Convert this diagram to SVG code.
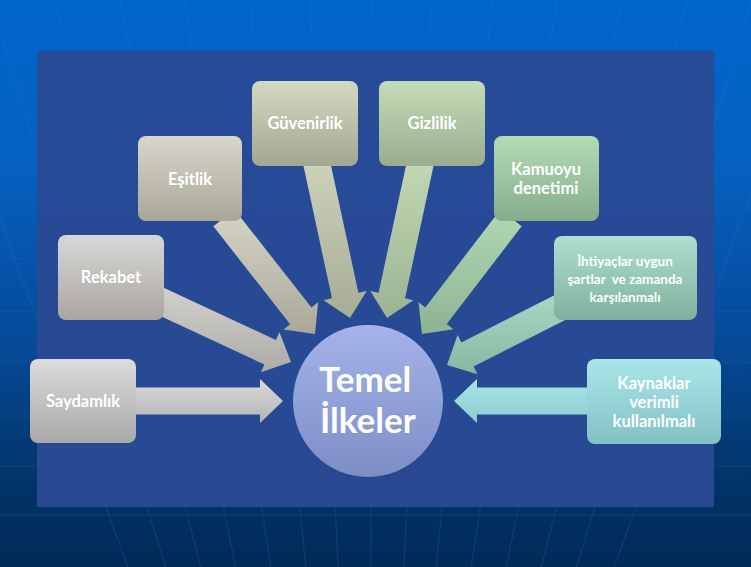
<svg xmlns="http://www.w3.org/2000/svg" width="751" height="567" viewBox="0 0 751 567">
<defs>
<linearGradient id="bg" x1="0" y1="0" x2="0" y2="1">
<stop offset="0" stop-color="#0066cc"/><stop offset="0.3" stop-color="#0560c0"/><stop offset="0.6" stop-color="#064a98"/><stop offset="0.85" stop-color="#023468"/><stop offset="1" stop-color="#012a58"/>
</linearGradient>
<linearGradient id="gSay" x1="0" y1="0" x2="0" y2="1"><stop offset="0" stop-color="#dcdcdc"/><stop offset="1" stop-color="#a8a8a8"/></linearGradient>
<linearGradient id="gRek" x1="0" y1="0" x2="0" y2="1"><stop offset="0" stop-color="#d9d7d5"/><stop offset="1" stop-color="#a8a5a2"/></linearGradient>
<linearGradient id="gEsi" x1="0" y1="0" x2="0" y2="1"><stop offset="0" stop-color="#d9d7cc"/><stop offset="1" stop-color="#a8a697"/></linearGradient>
<linearGradient id="gGuv" x1="0" y1="0" x2="0" y2="1"><stop offset="0" stop-color="#d4d9c2"/><stop offset="1" stop-color="#a2a792"/></linearGradient>
<linearGradient id="gGiz" x1="0" y1="0" x2="0" y2="1"><stop offset="0" stop-color="#c6dcb8"/><stop offset="1" stop-color="#97ad8c"/></linearGradient>
<linearGradient id="gKam" x1="0" y1="0" x2="0" y2="1"><stop offset="0" stop-color="#b2dcb6"/><stop offset="1" stop-color="#86ac8c"/></linearGradient>
<linearGradient id="gIht" x1="0" y1="0" x2="0" y2="1"><stop offset="0" stop-color="#ade0cd"/><stop offset="1" stop-color="#81af9f"/></linearGradient>
<linearGradient id="gKay" x1="0" y1="0" x2="0" y2="1"><stop offset="0" stop-color="#a9e6e8"/><stop offset="1" stop-color="#84c1c5"/></linearGradient>
<linearGradient id="aSay" x1="0" y1="0" x2="0" y2="1"><stop offset="0" stop-color="#dadada"/><stop offset="1" stop-color="#b4b4b4"/></linearGradient>
<linearGradient id="aRek" x1="0" y1="0" x2="0" y2="1"><stop offset="0" stop-color="#d2d0cd"/><stop offset="1" stop-color="#adaba6"/></linearGradient>
<linearGradient id="aEsi" x1="0" y1="0" x2="0" y2="1"><stop offset="0" stop-color="#d5d4c7"/><stop offset="1" stop-color="#a9a898"/></linearGradient>
<linearGradient id="aGuv" x1="0" y1="0" x2="0" y2="1"><stop offset="0" stop-color="#cdd3bb"/><stop offset="1" stop-color="#a7ad95"/></linearGradient>
<linearGradient id="aGiz" x1="0" y1="0" x2="0" y2="1"><stop offset="0" stop-color="#c3d9b5"/><stop offset="1" stop-color="#9cb391"/></linearGradient>
<linearGradient id="aKam" x1="0" y1="0" x2="0" y2="1"><stop offset="0" stop-color="#b1d9b3"/><stop offset="1" stop-color="#8eb394"/></linearGradient>
<linearGradient id="aIht" x1="0" y1="0" x2="0" y2="1"><stop offset="0" stop-color="#a9d9c5"/><stop offset="1" stop-color="#87b7a3"/></linearGradient>
<linearGradient id="aKay" x1="0" y1="0" x2="0" y2="1"><stop offset="0" stop-color="#a9e5e7"/><stop offset="1" stop-color="#8ccbcf"/></linearGradient>
<linearGradient id="gCirc" x1="0" y1="0" x2="0" y2="1"><stop offset="0" stop-color="#a4b4eb"/><stop offset="1" stop-color="#7c8ec5"/></linearGradient>
<style>
.box{stroke:none}
.t{font-family:"Lato","Open Sans",sans-serif;font-weight:700;fill:#ffffff;text-anchor:middle;font-size:16.5px}
.ts{font-size:13.5px}
.big{font-family:"Lato","Open Sans",sans-serif;font-weight:700;fill:#ffffff;font-size:35px}
.grid{stroke:#2f7ad8;stroke-width:1.2;opacity:0.22;fill:none}
</style>
</defs>
<rect x="0" y="0" width="751" height="567" fill="url(#bg)"/>
<g id="grid" class="grid">
<path d="M0,154H751M0,208H751M0,259H751M0,311H751M0,362H751M0,416H751M0,466H751M0,515H751"/>
<path d="M371,1230L-80,0M371,1230L-10,0M371,1230L55,0M371,1230L120,0M371,1230L185,0M371,1230L250,0M371,1230L310,0M371,1230L371,0M371,1230L432,0M371,1230L492,0M371,1230L557,0M371,1230L622,0M371,1230L687,0M371,1230L752,0M371,1230L822,0"/>
</g>
<rect id="panel" x="37" y="51" width="677" height="456" fill="#2a4a95" fill-opacity="0.95"/>
<g id="connectors">
<polygon fill="url(#aSay)" points="130,387.5 260,387.5 260,379 283,401 260,423 260,414.5 130,414.5"/>
<polygon fill="url(#aKay)" points="592,387.5 477,387.5 477,379 454,401 477,423 477,414.5 592,414.5"/>
<polygon fill="url(#aRek)" points="152.3,312.24 264.46,364.52 260.86,372.22 291,362 279.46,332.34 275.86,340.04 163.7,287.76"/>
<polygon fill="url(#aEsi)" points="213.38,226.33 290.18,324.23 283.49,329.48 315,334 318.11,302.32 311.42,307.57 234.62,209.67"/>
<polygon fill="url(#aGuv)" points="302.8,162.84 331.97,298.36 323.66,300.15 350,318 366.68,290.89 358.37,292.68 329.2,157.16"/>
<polygon fill="url(#aGiz)" points="407.8,157.16 378.63,292.68 370.32,290.89 387,318 413.34,300.15 405.03,298.36 434.2,162.84"/>
<polygon fill="url(#aKam)" points="500.29,209.78 425.29,307.53 418.55,302.36 422,334 453.45,329.14 446.71,323.97 521.71,226.22"/>
<polygon fill="url(#aIht)" points="558.88,292.97 461.38,342.54 457.53,334.96 447,365 477.47,374.18 473.62,366.6 571.12,317.03"/>
</g>
<g id="center">
<ellipse cx="368" cy="401" rx="75" ry="76" fill="url(#gCirc)"/>
<text class="big" x="319" y="392">Temel</text>
<text class="big" x="320" y="433">İlkeler</text>
</g>
<g id="n-guvenirlik"><rect class="box" x="252" y="81" width="106" height="85" rx="8" fill="url(#gGuv)"/><text class="t" x="305" y="129">Güvenirlik</text></g>
<g id="n-gizlilik"><rect class="box" x="379" y="81" width="106" height="85" rx="8" fill="url(#gGiz)"/><text class="t" x="432" y="129">Gizlilik</text></g>
<g id="n-esitlik"><rect class="box" x="138" y="136" width="104" height="85" rx="8" fill="url(#gEsi)"/><text class="t" x="190" y="185">Eşitlik</text></g>
<g id="n-kamuoyu"><rect class="box" x="494" y="136" width="105" height="85" rx="8" fill="url(#gKam)"/><text class="t" x="546" y="175">Kamuoyu</text><text class="t" x="546" y="194">denetimi</text></g>
<g id="n-rekabet"><rect class="box" x="58" y="235" width="106" height="85" rx="8" fill="url(#gRek)"/><text class="t" x="111" y="283">Rekabet</text></g>
<g id="n-ihtiyaclar"><rect class="box" x="554" y="236" width="143" height="84" rx="8" fill="url(#gIht)"/><text class="t ts" x="625" y="266">İhtiyaçlar uygun</text><text class="t ts" x="625" y="284" xml:space="preserve">şartlar  ve zamanda</text><text class="t ts" x="625" y="302">karşılanmalı</text></g>
<g id="n-saydamlik"><rect class="box" x="30" y="359" width="106" height="84" rx="8" fill="url(#gSay)"/><text class="t" x="83" y="407">Saydamlık</text></g>
<g id="n-kaynaklar"><rect class="box" x="587" y="359" width="134" height="85" rx="8" fill="url(#gKay)"/><text class="t" x="654" y="389">Kaynaklar</text><text class="t" x="654" y="408">verimli</text><text class="t" x="654" y="427">kullanılmalı</text></g>
</svg>
